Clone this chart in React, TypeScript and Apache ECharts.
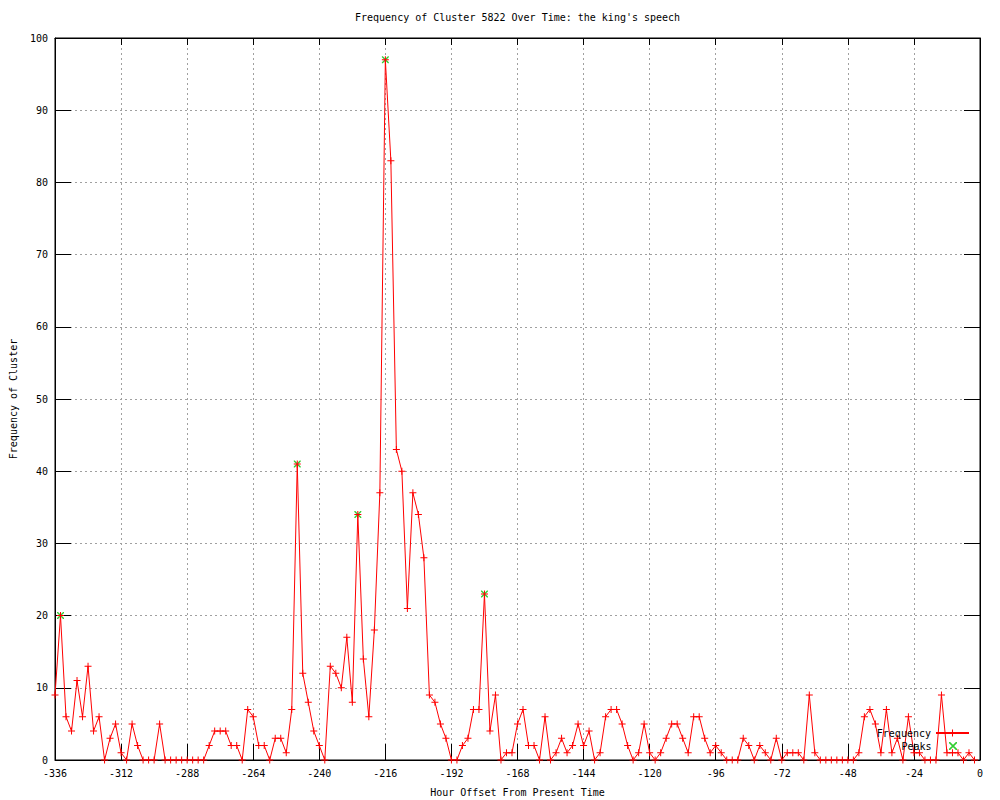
import React, { useEffect, useRef } from 'react';
import * as echarts from 'echarts';

const TITLE = "Frequency of Cluster 5822 Over Time: the king's speech";
const X_NAME = 'Hour Offset From Present Time';
const Y_NAME = 'Frequency of Cluster';
const SERIES_FREQ = 'Frequency';
const SERIES_PEAKS = 'Peaks';

// hour offset of the first sample and spacing between samples (hours)
const START_HOUR = -336;
const STEP_HOURS = 2;

// frequency per 2-hour bucket, from -336 h to -2 h
const frequency = [
  9, 20, 6, 4, 11, 6, 13, 4, 6, 0,
  3, 5, 1, 0, 5, 2, 0, 0, 0, 5,
  0, 0, 0, 0, 0, 0, 0, 0, 2, 4,
  4, 4, 2, 2, 0, 7, 6, 2, 2, 0,
  3, 3, 1, 7, 41, 12, 8, 4, 2, 0,
  13, 12, 10, 17, 8, 34, 14, 6, 18, 37,
  97, 83, 43, 40, 21, 37, 34, 28, 9, 8,
  5, 3, 0, 0, 2, 3, 7, 7, 23, 4,
  9, 0, 1, 1, 5, 7, 2, 2, 0, 6,
  0, 1, 3, 1, 2, 5, 2, 4, 0, 1,
  6, 7, 7, 5, 2, 0, 1, 5, 1, 0,
  1, 3, 5, 5, 3, 1, 6, 6, 3, 1,
  2, 1, 0, 0, 0, 3, 2, 0, 2, 1,
  0, 3, 0, 1, 1, 1, 0, 9, 1, 0,
  0, 0, 0, 0, 0, 0, 1, 6, 7, 5,
  1, 7, 1, 3, 0, 6, 1, 1, 0, 0,
  0, 9, 1, 1, 1, 0, 1, 0,
];

// sample indices that are marked as peaks
const peakIndices = [1, 44, 55, 60, 78];

const X_MIN = -336;
const X_MAX = 0;
const X_INTERVAL = 24;
const Y_MIN = 0;
const Y_MAX = 100;
const Y_INTERVAL = 10;

const FONT = 'DejaVu Sans Mono';
const PLUS = 'path://M0,3H7V4H0Z M3,0H4V7H3Z';
const CROSS = 'path://M0,0L1,0L7,6L7,7L6,7L0,1Z M6,0L7,0L7,1L1,7L0,7L0,6Z';

export default function App() {
  const ref = useRef<HTMLDivElement>(null);

  useEffect(() => {
    document.body.style.margin = '0';
    if (!ref.current) return;
    const chart = echarts.init(ref.current, undefined, { renderer: 'svg' });

    const freqData = frequency.map((v, i) => [START_HOUR + STEP_HOURS * i, v]);
    const peakData = peakIndices.map((i) => [START_HOUR + STEP_HOURS * i, frequency[i]]);

    const textStyle = { fontFamily: FONT, fontSize: 10, color: '#000' };
    const gridLine = { show: true, lineStyle: { color: '#a0a0a0', width: 1, type: [2, 3] as any } };
    const axisLine = { show: true, onZero: false, lineStyle: { color: '#000', width: 1 } };
    const tick = (len: number) => ({ show: true, inside: true, length: len, lineStyle: { color: '#000', width: 1 } });

    chart.setOption({
      animation: false,
      backgroundColor: '#fff',
      title: {
        text: TITLE,
        left: 355,
        top: 12,
        padding: 0,
        textStyle: { ...textStyle, fontWeight: 'normal' },
      },
      grid: {
        left: 55,
        right: 20,
        top: 38,
        bottom: 40,
        show: true,
        borderColor: '#000',
        borderWidth: 1,
        containLabel: false,
        outerBoundsMode: 'none',
      },
      legend: [
        {
          data: [SERIES_FREQ],
          right: 30,
          top: 728,
          padding: 0,
          orient: 'vertical',
          align: 'right',
          itemWidth: 33,
          itemHeight: 9,
          textStyle,
        },
        {
          data: [SERIES_PEAKS],
          right: 43,
          top: 741,
          padding: 0,
          orient: 'vertical',
          align: 'right',
          itemWidth: 33,
          itemHeight: 8,
          textStyle,
        },
      ],
      xAxis: [
        {
          type: 'value',
          position: 'bottom',
          min: X_MIN,
          max: X_MAX,
          interval: X_INTERVAL,
          name: X_NAME,
          nameLocation: 'middle',
          nameGap: 27,
          nameTextStyle: textStyle,
          axisLine,
          axisTick: tick(16),
          axisLabel: { ...textStyle, margin: 8 },
          splitLine: gridLine,
        },
        {
          type: 'value',
          position: 'top',
          min: X_MIN,
          max: X_MAX,
          interval: X_INTERVAL,
          axisLine,
          axisTick: tick(7),
          axisLabel: { show: false },
          splitLine: { show: false },
        },
      ],
      yAxis: [
        {
          type: 'value',
          position: 'left',
          min: Y_MIN,
          max: Y_MAX,
          interval: Y_INTERVAL,
          name: Y_NAME,
          nameLocation: 'middle',
          nameGap: 37,
          nameTextStyle: textStyle,
          axisLine,
          axisTick: tick(16),
          axisLabel: { ...textStyle, margin: 7 },
          splitLine: gridLine,
        },
        {
          type: 'value',
          position: 'right',
          min: Y_MIN,
          max: Y_MAX,
          interval: Y_INTERVAL,
          axisLine,
          axisTick: tick(16),
          axisLabel: { show: false },
          splitLine: { show: false },
        },
      ],
      series: [
        {
          name: SERIES_FREQ,
          type: 'line',
          xAxisIndex: 0,
          yAxisIndex: 0,
          data: freqData,
          showAllSymbol: true,
          symbol: PLUS,
          symbolSize: 7,
          itemStyle: { color: '#ff0000' },
          lineStyle: { color: '#ff0000', width: 1 },
        },
        {
          name: SERIES_PEAKS,
          type: 'scatter',
          xAxisIndex: 0,
          yAxisIndex: 0,
          data: peakData,
          symbol: CROSS,
          symbolSize: 7,
          itemStyle: { color: '#00c000' },
        },
      ],
    });

    return () => chart.dispose();
  }, []);

  return <div ref={ref} style={{ width: 1000, height: 800 }} />;
}
